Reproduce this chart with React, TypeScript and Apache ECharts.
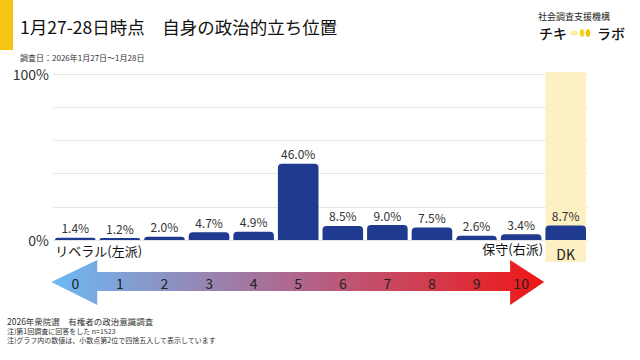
import React, { useEffect, useRef } from "react";
import * as echarts from "echarts";

const categories = ["0", "1", "2", "3", "4", "5", "6", "7", "8", "9", "10", "DK"];
const values = [1.4, 1.2, 2.0, 4.7, 4.9, 46.0, 8.5, 9.0, 7.5, 2.6, 3.4, 8.7];
const yTickLabels = [0, 100];

const TITLE = "1月27-28日時点\u2002\u2002自身の政治的立ち位置";
const SUBTITLE = "調査日：2026年1月27日～1月28日";
const FOOT1 = "2026年衆院選\u3000有権者の政治意識調査";
const FOOT2 = "注)第1回調査に回答をした n=1523";
const FOOT3 = "注)グラフ内の数値は、小数点第2位で四捨五入して表示しています";
const LEFT_LABEL = "リベラル(左派)";
const RIGHT_LABEL = "保守(右派)";

const FONT = "'Noto Sans CJK JP', 'Noto Sans', sans-serif";

export default function App() {
  const ref = useRef<HTMLDivElement>(null);
  useEffect(() => {
    if (!ref.current) return;
    const chart = echarts.init(ref.current, null, { renderer: "svg", width: 640, height: 360 });
    const gridLeft = 53;
    const gridRight = 52;
    const gridTop = 74;
    const gridBottom = 120;
    const gapRatio = 0.09;
    chart.setOption({
      animation: false,
      backgroundColor: "#ffffff",
      textStyle: { fontFamily: FONT },
      grid: { left: gridLeft, right: gridRight, top: gridTop, bottom: gridBottom, containLabel: false },
      xAxis: {
        type: "category",
        data: categories,
        z: 10,
        axisLine: { show: false },
        axisTick: { show: false },
        axisLabel: {
          interval: 0,
          hideOverlap: false,
          margin: 4,
          verticalAlign: "top",
          formatter: (v: string) => (v === "DK" ? `{dk|${v}}` : `{n|${v}}`),
          rich: {
            n: { fontSize: 14, color: "#222", lineHeight: 78, fontFamily: FONT },
            dk: { fontSize: 14, color: "#222", lineHeight: 19, fontFamily: FONT },
          },
        },
      },
      yAxis: {
        type: "value",
        min: 0,
        max: 100,
        interval: 20,
        axisLine: { show: false },
        axisTick: { show: false },
        splitLine: { lineStyle: { color: "#e6e6e6", width: 1 } },
        axisLabel: {
          margin: 4,
          fontSize: 14,
          color: "#333",
          fontFamily: FONT,
          formatter: (v: number) => (yTickLabels.includes(v) ? `${v}%` : ""),
        },
      },
      series: [
        {
          type: "bar",
          data: values,
          barCategoryGap: `${gapRatio * 100}%`,
          z: 5,
          itemStyle: { color: "#1f3a8e", borderRadius: [4, 4, 0, 0] },
          label: {
            show: true,
            position: "top",
            distance: 4,
            fontSize: 12,
            color: "#333",
            fontFamily: FONT,
            formatter: (p: any) => `${Number(p.value).toFixed(1)}%`,
          },
        },
      ],
    });

    const x0 = chart.convertToPixel({ xAxisIndex: 0 }, "0") as number;
    const x1 = chart.convertToPixel({ xAxisIndex: 0 }, "1") as number;
    const x10 = chart.convertToPixel({ xAxisIndex: 0 }, "10") as number;
    const xdk = chart.convertToPixel({ xAxisIndex: 0 }, "DK") as number;
    const cw = x1 - x0;
    const bw = cw * (1 - gapRatio);
    const yTop = gridTop - 2;
    const yBot = 262;

    const ay = 282;
    const leftTip = x0 - 24;
    const leftBase = x0 + 22;
    const rightBase = x10 - 11;
    const rightTip = x10 + 23;
    const bodyT = 272;
    const bodyB = 291;
    const headT = 260;
    const headB = 305;

    chart.setOption({
      graphic: [
        { type: "rect", z: 0, shape: { x: 0, y: 0, width: 13, height: 50 }, style: { fill: "#f6c412" } },
        {
          type: "text", z: 1, x: 20, y: 26,
          style: { text: TITLE, fontSize: 17.5, fontWeight: "normal", fill: "#111", fontFamily: FONT, verticalAlign: "middle" },
        },
        {
          type: "text", z: 1, x: 20, y: 57,
          style: { text: SUBTITLE, fontSize: 8, fill: "#333", fontFamily: FONT, verticalAlign: "middle" },
        },
        {
          type: "text", z: 1, x: 574, y: 16,
          style: { text: "社会調査支援機構", fontSize: 9, fill: "#222", fontFamily: FONT, align: "center", verticalAlign: "middle" },
        },
        {
          type: "text", z: 1, x: 539, y: 33,
          style: { text: "チキ", fontSize: 14, fontWeight: 500, fill: "#111", fontFamily: FONT, verticalAlign: "middle" },
        },
        {
          type: "text", z: 1, x: 597, y: 33,
          style: { text: "ラボ", fontSize: 14, fontWeight: 500, fill: "#111", fontFamily: FONT, verticalAlign: "middle" },
        },
        { type: "ellipse", z: 1, shape: { cx: 574, cy: 33, rx: 4, ry: 2.5 }, style: { fill: "#fbeaa0" } },
        { type: "ellipse", z: 1, shape: { cx: 582, cy: 33, rx: 2.3, ry: 4 }, style: { fill: "#f7d21c" } },
        { type: "ellipse", z: 1, shape: { cx: 588, cy: 33, rx: 2.3, ry: 4 }, style: { fill: "#f4c400" } },
        {
          type: "rect", z: 0,
          shape: { x: xdk - bw / 2, y: yTop, width: bw, height: yBot - yTop },
          style: { fill: "#fdf0c2" },
        },
        {
          type: "polygon", z: 0,
          shape: {
            points: [
              [leftTip, ay], [leftBase, headT], [leftBase, bodyT], [rightBase, bodyT], [rightBase, headT],
              [rightTip, ay], [rightBase, headB], [rightBase, bodyB], [leftBase, bodyB], [leftBase, headB],
            ],
          },
          style: {
            fill: new echarts.graphic.LinearGradient(0, 0, 1, 0, [
              { offset: 0, color: "#6cb9f4" },
              { offset: 0.5, color: "#b0668c" },
              { offset: 1, color: "#f01616" },
            ]),
          },
        },
        {
          type: "text", z: 1, x: x0 - 20, y: 250,
          style: { text: LEFT_LABEL, fontSize: 13, fill: "#111", fontFamily: FONT, verticalAlign: "middle" },
        },
        {
          type: "text", z: 1, x: x10 + 22, y: 248,
          style: { text: RIGHT_LABEL, fontSize: 13, fill: "#111", fontFamily: FONT, align: "right", verticalAlign: "middle" },
        },
        {
          type: "text", z: 1, x: 7, y: 320.5,
          style: { text: FOOT1, fontSize: 8.5, fill: "#333", fontFamily: FONT, verticalAlign: "middle" },
        },
        {
          type: "text", z: 1, x: 7, y: 330.5,
          style: { text: FOOT2, fontSize: 7, fill: "#333", fontFamily: FONT, verticalAlign: "middle" },
        },
        {
          type: "text", z: 1, x: 7, y: 339.5,
          style: { text: FOOT3, fontSize: 7, fill: "#333", fontFamily: FONT, verticalAlign: "middle" },
        },
      ],
    });

    return () => chart.dispose();
  }, []);
  return <div ref={ref} style={{ position: "fixed", left: 0, top: 0, width: 640, height: 360 }} />;
}
